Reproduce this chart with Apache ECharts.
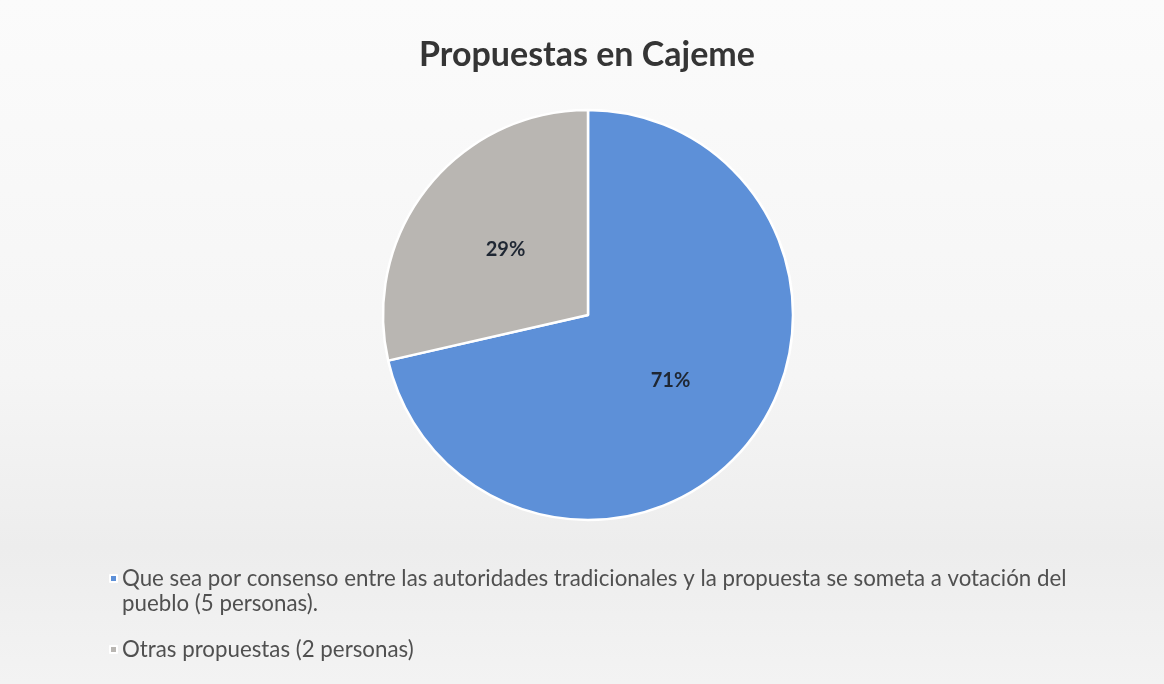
<!DOCTYPE html>
<html>
<head>
<meta charset="utf-8">
<script src="https://cdn.jsdelivr.net/npm/echarts@6/dist/echarts.min.js"></script>
<style>
  html, body { margin: 0; padding: 0; background: #f6f6f6; }
  #chart { width: 1164px; height: 684px; }
</style>
</head>
<body>
<div id="chart"></div>
<script>
// Respuestas agrupadas por propuesta (número de personas)
const categories = [
  'Que sea por consenso entre las autoridades tradicionales y la propuesta se someta a votación del pueblo (5 personas).',
  'Otras propuestas (2 personas)'
];
const personas = [5, 2];
const colores = ['#5d90d8', '#b9b6b2'];

const legendFontSize = 22.3;
const legendLine = 25;

const chart = echarts.init(document.getElementById('chart'), null, { renderer: 'canvas' });

chart.setOption({
  backgroundColor: {
    type: 'linear', x: 0, y: 0, x2: 0, y2: 1,
    colorStops: [
      { offset: 0, color: '#fbfbfb' },
      { offset: 0.55, color: '#f5f5f5' },
      { offset: 0.8, color: '#ededed' },
      { offset: 1, color: '#f3f3f3' }
    ]
  },
  title: {
    text: 'Propuestas en Cajeme',
    left: 414,
    top: 33,
    textStyle: {
      fontFamily: 'Lato',
      fontSize: 34,
      fontWeight: 'bold',
      color: '#353535'
    }
  },
  legend: {
    orient: 'vertical',
    left: 104,
    top: 536,
    itemWidth: 7,
    itemHeight: 7,
    itemGap: 21,
    icon: 'rect',
    // the long entry wraps onto two lines; an empty leading line keeps
    // its marker level with the first line of text
    formatter: name => (name === categories[0] ? '\n' + name : name),
    textStyle: {
      fontFamily: 'Lato',
      fontSize: legendFontSize,
      color: '#505050',
      lineHeight: legendLine,
      width: 975,
      overflow: 'break'
    },
    data: categories
  },
  series: [{
    type: 'pie',
    center: [588, 315],
    radius: [0, 205],
    startAngle: 90,
    clockwise: true,
    silent: true,
    data: categories.map((name, i) => ({
      name,
      value: personas[i],
      itemStyle: { color: colores[i] }
    })),
    itemStyle: { borderColor: '#ffffff', borderWidth: 2.5 },
    label: {
      show: true,
      position: 'inside',
      formatter: p => Math.round(p.percent) + '%',
      fontFamily: 'Lato',
      fontSize: 20,
      fontWeight: 'bold',
      color: '#1f2733'
    },
    labelLine: { show: false }
  }]
});
</script>
</body>
</html>
